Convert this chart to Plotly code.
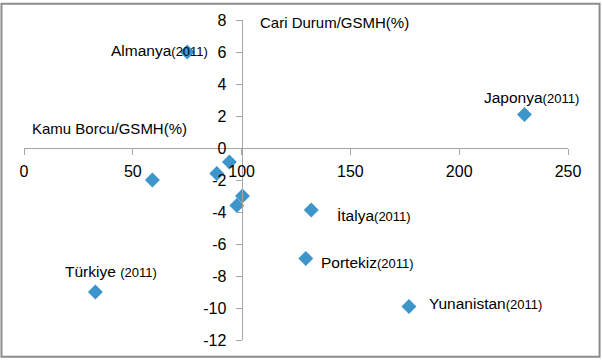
import plotly.graph_objects as go

# Data
countries = ["Almanya", "Japonya", "", "", "", "", "", "İtalya", "Portekiz", "Türkiye", "Yunanistan"]
kamu_borcu = [75, 230, 94.4, 88.6, 59, 100.4, 97.8, 132, 129.5, 32.8, 176.9]
cari_durum = [6.0, 2.1, -0.87, -1.6, -2.0, -3.0, -3.6, -3.88, -6.9, -9.0, -9.9]

x_ticks = [0, 50, 100, 150, 200, 250]
y_ticks = [-12, -10, -8, -6, -4, -2, 0, 2, 4, 6, 8]

# label annotations (text, x, y, anchor)
labels = [
    ("Almanya", 85.5, 6.08, "right"),
    ("Japonya", 210.7, 3.17, "left"),
    ("İtalya", 142.9, -4.23, "left"),
    ("Portekiz", 135.5, -7.16, "left"),
    ("Türkiye ", 18.1, -7.71, "left"),
    ("Yunanistan", 185.0, -9.69, "left"),
]

FONT = "Liberation Sans, Arial, sans-serif"
AX = "#a6a6a6"

fig = go.Figure()
fig.add_trace(go.Scatter(
    x=kamu_borcu, y=cari_durum, mode="markers",
    marker=dict(symbol="diamond", size=11.5, color="#3d95cc", line=dict(width=0)),
    hoverinfo="x+y", showlegend=False,
))

annotations = []
for name, ax_, ay_, anc in labels:
    annotations.append(dict(
        x=ax_, y=ay_, xref="x", yref="y", xanchor=anc, yanchor="middle",
        text=f"{name}<span style='font-size:13px'>(2011)</span>",
        showarrow=False, font=dict(family=FONT, size=15.5, color="#000000"),
    ))
annotations.append(dict(x=2.85, y=1.19, xref="x", yref="y", xanchor="left", yanchor="middle",
                        text="Kamu Borcu/GSMH(%)", showarrow=False,
                        font=dict(family=FONT, size=15, color="#000000")))
annotations.append(dict(x=107.7, y=7.83, xref="x", yref="y", xanchor="left", yanchor="middle",
                        text="Cari Durum/GSMH(%)", showarrow=False,
                        font=dict(family=FONT, size=15, color="#000000")))

fig.update_layout(
    width=602, height=361,
    margin=dict(l=24, r=34, t=18, b=19),
    paper_bgcolor="white", plot_bgcolor="white",
    font=dict(family=FONT, size=16, color="#000000"),
    xaxis=dict(range=[0, 250], tickvals=x_ticks, ticktext=[str(v) for v in x_ticks],
               anchor="free", position=0.6,
               showline=True, linecolor=AX, linewidth=1, ticks="outside", ticklen=6,
               tickcolor=AX, showgrid=False, zeroline=False, ticklabelstandoff=3),
    yaxis=dict(range=[-12, 8], tickvals=y_ticks, ticktext=[str(v) for v in y_ticks],
               anchor="free", position=0.4,
               showline=True, linecolor=AX, linewidth=1, ticks="outside", ticklen=6,
               tickcolor=AX, showgrid=False, zeroline=False, ticklabelstandoff=6),
    annotations=annotations,
    shapes=[dict(type="rect", xref="paper", yref="paper",
                 x0=-0.0414, x1=1.058, y0=-0.0525, y1=1.051,
                 line=dict(color="#8c8c8c", width=2))],
)

fig.write_html("out.html", config={"displayModeBar": False},
               post_script="document.body.style.margin='0';document.body.style.overflow='hidden';")
